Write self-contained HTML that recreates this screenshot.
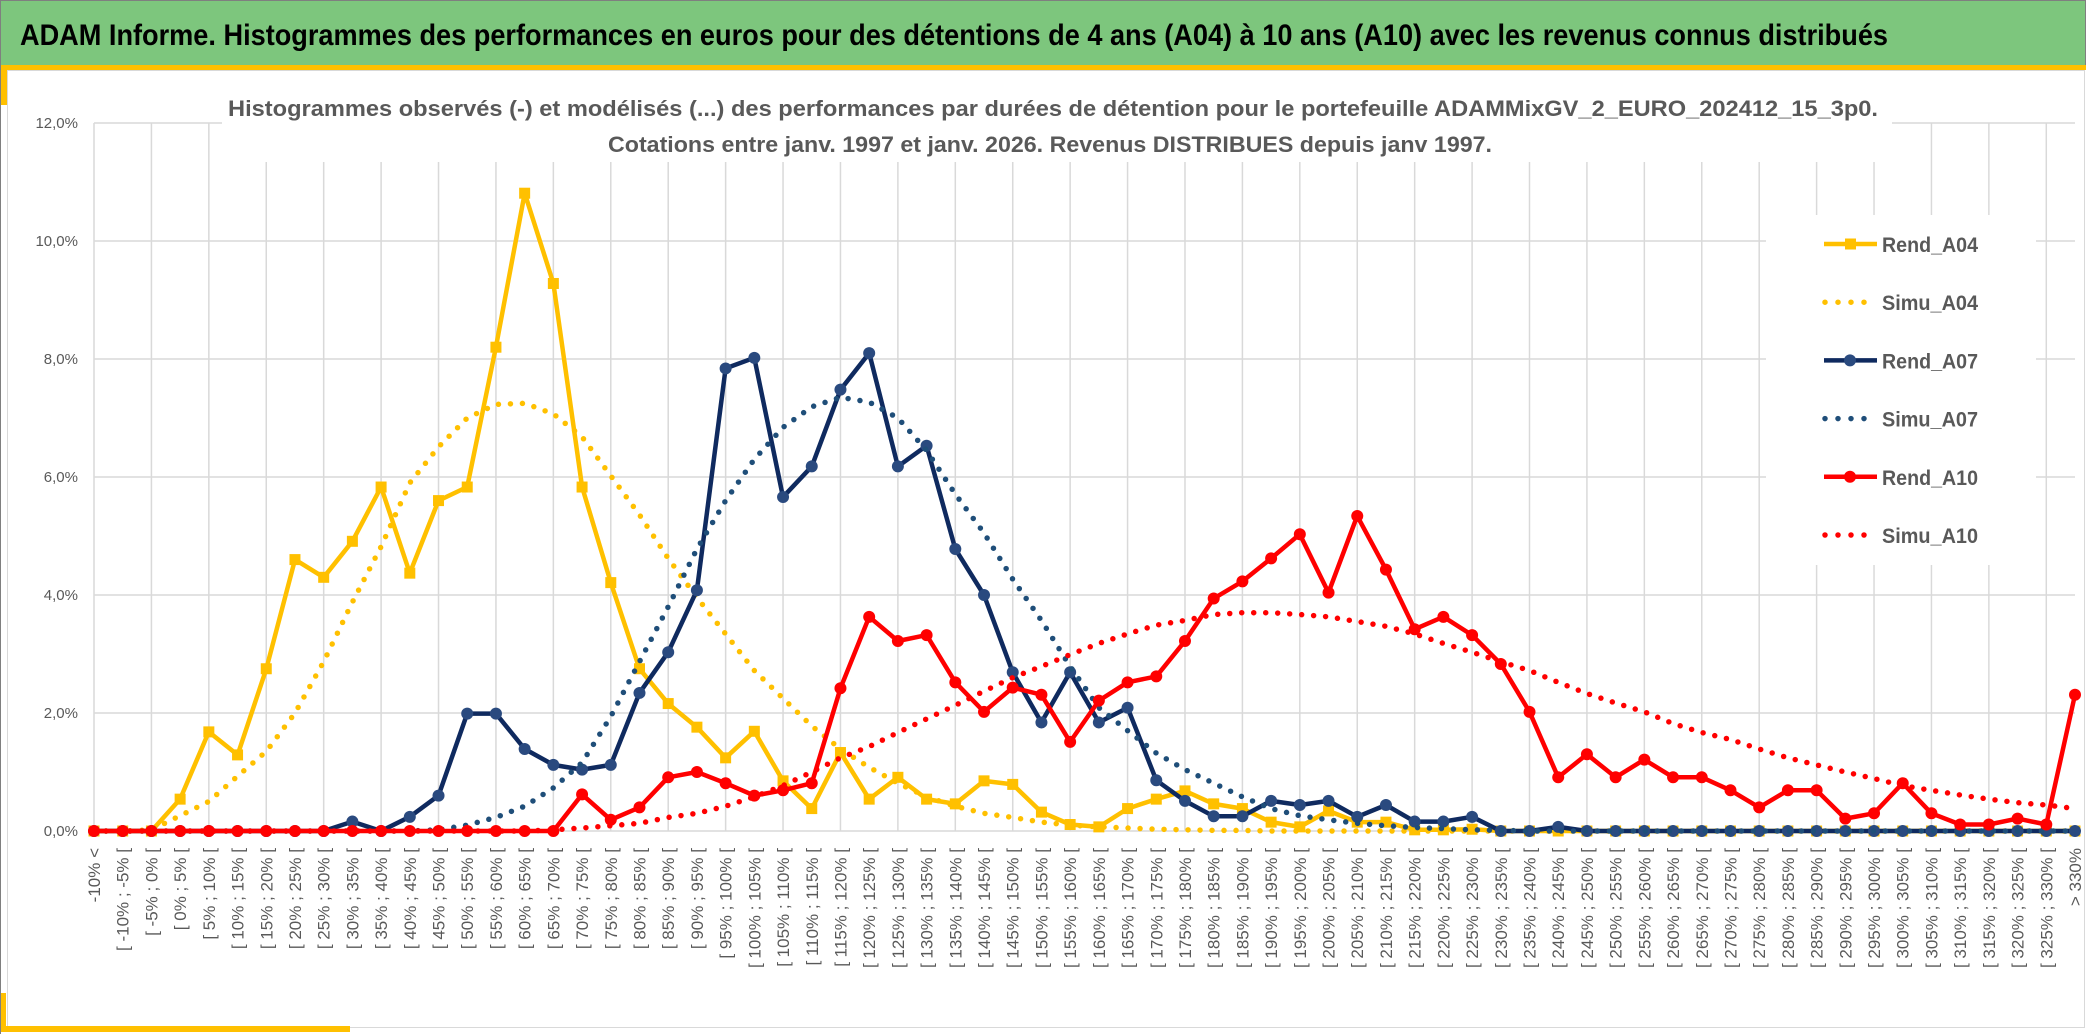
<!DOCTYPE html>
<html>
<head>
<meta charset="utf-8">
<style>
html,body{margin:0;padding:0;background:#fff;}
svg{display:block;font-family:"Liberation Sans",sans-serif;}
</style>
</head>
<body>
<svg id="chart" width="2086" height="1034" viewBox="0 0 2086 1034" xmlns="http://www.w3.org/2000/svg">
  <rect x="0" y="0" width="2086" height="1034" fill="#ffffff"/>
  <rect x="0.5" y="0.5" width="2085" height="65" fill="#7dc67d" stroke="#7f7f7f"/>
  <text x="20" y="45" font-size="30" font-weight="bold" fill="#000" textLength="1868" lengthAdjust="spacingAndGlyphs">ADAM Informe. Histogrammes des performances en euros pour des détentions de 4 ans (A04) à 10 ans (A10) avec les revenus connus distribués</text>
  <rect x="0" y="65" width="2086" height="5" fill="#ffc000"/>
  <rect x="0" y="65" width="7" height="40" fill="#ffc000"/>
  <rect x="7.5" y="70.5" width="2077" height="957" fill="none" stroke="#d9d9d9"/>
  <rect x="0" y="1026" width="350" height="6" fill="#ffc000"/>
  <rect x="0" y="993" width="6" height="39" fill="#ffc000"/>
  <line x1="0.5" y1="0" x2="0.5" y2="1034" stroke="#7f7f7f"/>
  <g id="grid"></g>
  <rect x="222" y="72" width="1670" height="90" fill="#fff"/>
  <text x="1053" y="116" font-size="22" font-weight="bold" fill="#595959" text-anchor="middle" textLength="1650" lengthAdjust="spacingAndGlyphs">Histogrammes observés (-) et modélisés (...) des performances par durées de détention pour le portefeuille ADAMMixGV_2_EURO_202412_15_3p0.</text>
  <text x="1050" y="152" font-size="22" font-weight="bold" fill="#595959" text-anchor="middle" textLength="884" lengthAdjust="spacingAndGlyphs">Cotations entre janv. 1997 et janv. 2026. Revenus DISTRIBUES depuis janv 1997.</text>
  <g id="yaxis"></g>
  <g id="xaxis"></g>
  <g id="series"></g>
  <g id="legend"></g>
</svg>
<script>
const categories = ["-10% <","[ -10% ; -5% [","[ -5% ; 0% [","[ 0% ; 5% [","[ 5% ; 10% [","[ 10% ; 15% [","[ 15% ; 20% [","[ 20% ; 25% [","[ 25% ; 30% [","[ 30% ; 35% [","[ 35% ; 40% [","[ 40% ; 45% [","[ 45% ; 50% [","[ 50% ; 55% [","[ 55% ; 60% [","[ 60% ; 65% [","[ 65% ; 70% [","[ 70% ; 75% [","[ 75% ; 80% [","[ 80% ; 85% [","[ 85% ; 90% [","[ 90% ; 95% [","[ 95% ; 100% [","[ 100% ; 105% [","[ 105% ; 110% [","[ 110% ; 115% [","[ 115% ; 120% [","[ 120% ; 125% [","[ 125% ; 130% [","[ 130% ; 135% [","[ 135% ; 140% [","[ 140% ; 145% [","[ 145% ; 150% [","[ 150% ; 155% [","[ 155% ; 160% [","[ 160% ; 165% [","[ 165% ; 170% [","[ 170% ; 175% [","[ 175% ; 180% [","[ 180% ; 185% [","[ 185% ; 190% [","[ 190% ; 195% [","[ 195% ; 200% [","[ 200% ; 205% [","[ 205% ; 210% [","[ 210% ; 215% [","[ 215% ; 220% [","[ 220% ; 225% [","[ 225% ; 230% [","[ 230% ; 235% [","[ 235% ; 240% [","[ 240% ; 245% [","[ 245% ; 250% [","[ 250% ; 255% [","[ 255% ; 260% [","[ 260% ; 265% [","[ 265% ; 270% [","[ 270% ; 275% [","[ 275% ; 280% [","[ 280% ; 285% [","[ 285% ; 290% [","[ 290% ; 295% [","[ 295% ; 300% [","[ 300% ; 305% [","[ 305% ; 310% [","[ 310% ; 315% [","[ 315% ; 320% [","[ 320% ; 325% [","[ 325% ; 330% [","> 330%"];
const rendA04 = [0,0,0,0.54,1.68,1.29,2.75,4.6,4.3,4.91,5.83,4.37,5.6,5.83,8.2,10.81,9.28,5.83,4.21,2.75,2.16,1.76,1.24,1.69,0.85,0.38,1.33,0.54,0.91,0.54,0.46,0.85,0.79,0.32,0.11,0.07,0.38,0.54,0.68,0.46,0.38,0.15,0.07,0.34,0.15,0.15,0.02,0.02,0.03,0,0,0,0,0,0,0,0,0,0,0,0,0,0,0,0,0,0,0,0,0];
const simuA04 = [0,0,0.02,0.26,0.5,0.93,1.35,2.0,2.87,3.88,4.82,5.9,6.51,7.0,7.23,7.25,7.07,6.68,6.02,5.36,4.62,3.96,3.34,2.72,2.25,1.78,1.39,1.08,0.81,0.58,0.42,0.3,0.23,0.15,0.1,0.07,0.05,0.03,0.02,0.01,0.01,0,0,0,0,0,0,0,0,0,0,0,0,0,0,0,0,0,0,0,0,0,0,0,0,0,0,0,0,0];
const rendA07 = [0,0,0,0,0,0,0,0,0,0.16,0,0.24,0.6,1.99,1.99,1.39,1.12,1.04,1.12,2.34,3.03,4.08,7.84,8.02,5.66,6.18,7.48,8.1,6.18,6.53,4.78,4.0,2.69,1.84,2.69,1.84,2.09,0.86,0.51,0.25,0.25,0.51,0.44,0.51,0.24,0.44,0.16,0.16,0.24,0,0,0.07,0,0,0,0,0,0,0,0,0,0,0,0,0,0,0,0,0,0];
const simuA07 = [0,0,0,0,0,0,0,0,0,0,0,0,0.02,0.1,0.23,0.42,0.73,1.16,1.94,2.87,3.8,4.78,5.6,6.3,6.84,7.19,7.35,7.27,7.0,6.45,5.71,5.05,4.27,3.57,2.79,2.09,1.7,1.32,1.04,0.81,0.58,0.38,0.26,0.19,0.13,0.09,0.06,0.04,0.02,0.01,0,0,0,0,0,0,0,0,0,0,0,0,0,0,0,0,0,0,0,0];
const rendA10 = [0,0,0,0,0,0,0,0,0,0,0,0,0,0,0,0,0,0.62,0.19,0.4,0.91,1.0,0.81,0.6,0.69,0.81,2.42,3.63,3.22,3.32,2.52,2.02,2.43,2.31,1.51,2.21,2.52,2.62,3.22,3.94,4.23,4.62,5.03,4.04,5.34,4.43,3.42,3.63,3.32,2.83,2.02,0.91,1.3,0.91,1.21,0.91,0.91,0.69,0.4,0.69,0.69,0.21,0.3,0.81,0.3,0.11,0.11,0.21,0.11,2.31];
const simuA10 = [0,0,0,0,0,0,0,0,0,0,0,0,0,0,0,0,0.02,0.05,0.09,0.13,0.23,0.3,0.42,0.58,0.77,1.0,1.24,1.43,1.67,1.9,2.13,2.37,2.6,2.79,2.99,3.18,3.34,3.49,3.57,3.67,3.7,3.7,3.67,3.63,3.55,3.47,3.34,3.18,3.03,2.87,2.72,2.52,2.33,2.17,2.02,1.82,1.67,1.55,1.39,1.24,1.12,1.0,0.89,0.77,0.69,0.61,0.54,0.48,0.44,0.38];
const yTicks = [0,2,4,6,8,10,12];
const yTickLabels = ["0,0%","2,0%","4,0%","6,0%","8,0%","10,0%","12,0%"];
const seriesNames = ["Rend_A04","Simu_A04","Rend_A07","Simu_A07","Rend_A10","Simu_A10"];

const NS = "http://www.w3.org/2000/svg";
const X0 = 94, X1 = 2075, Y0 = 831, YTOP = 123, YMAX = 12;
function xPos(i){ return X0 + i * (X1 - X0) / (categories.length - 1); }
function yPos(v){ return Y0 - v * (Y0 - YTOP) / YMAX; }
function mk(tag, attrs, parent){
  const e = document.createElementNS(NS, tag);
  for (const k in attrs) e.setAttribute(k, attrs[k]);
  parent.appendChild(e);
  return e;
}

// gridlines
const grid = document.getElementById('grid');
yTicks.forEach((t) => {
  const l = mk('line', {x1: X0, x2: X1, y1: yPos(t), y2: yPos(t), stroke: '#d9d9d9', 'stroke-width': 1.5}, grid);
  
  
});
for (let i = 0; i < categories.length; i += 2) {
  const l = mk('line', {x1: xPos(i), x2: xPos(i), y1: YTOP, y2: Y0, stroke: '#d9d9d9', 'stroke-width': 1.5}, grid);
  
  
}

// y axis labels
const yaxis = document.getElementById('yaxis');
yTicks.forEach((t, k) => {
  const tx = mk('text', {x: 78, y: yPos(t) + 5, 'font-size': 15, fill: '#595959', 'text-anchor': 'end'}, yaxis);
  tx.textContent = yTickLabels[k];
  
  
});

// x axis labels
const xaxis = document.getElementById('xaxis');
categories.forEach((c, i) => {
  const x = xPos(i) + 6, y = 848;
  const tx = mk('text', {x: x, y: y, 'font-size': 17, fill: '#595959', 'text-anchor': 'end', transform: 'rotate(-90 ' + x + ' ' + y + ')'}, xaxis);
  tx.textContent = c;
  
  
});

// series
const sg = document.getElementById('series');
function pts(arr){ return arr.map((v, i) => xPos(i).toFixed(1) + ',' + yPos(v).toFixed(1)).join(' '); }
function drawSolid(arr, color, markerColor, marker, name){
  const g = mk('g', {}, sg);
  
  
  const pl = mk('polyline', {points: pts(arr), fill: 'none', stroke: color, 'stroke-width': 4.5, 'stroke-linejoin': 'round'}, g);
  
  
  arr.forEach((v, i) => {
    let m;
    if (marker === 'square') {
      m = mk('rect', {x: xPos(i) - 5.5, y: yPos(v) - 5.5, width: 11, height: 11, fill: markerColor}, g);
    } else {
      m = mk('circle', {cx: xPos(i), cy: yPos(v), r: 6, fill: markerColor}, g);
    }
    
    
  });
}
function drawDotted(arr, color, name){
  const pl = mk('polyline', {points: pts(arr), fill: 'none', stroke: color, 'stroke-width': 5.5, 'stroke-linecap': 'round', 'stroke-linejoin': 'round', 'stroke-dasharray': '0 12'}, sg);
  
  
}
drawSolid(rendA04, '#ffc000', '#ffc000', 'square', 'rend-a04');
drawDotted(simuA04, '#ffc000', 'simu-a04');
drawSolid(rendA07, '#0f2a5f', '#2a4a7f', 'circle', 'rend-a07');
drawDotted(simuA07, '#1f4e79', 'simu-a07');
drawSolid(rendA10, '#ff0000', '#ff0000', 'circle', 'rend-a10');
drawDotted(simuA10, '#ff0000', 'simu-a10');

// legend
const lg = document.getElementById('legend');
const bg = mk('rect', {x: 1766, y: 215, width: 270, height: 350, fill: '#ffffff'}, lg);


const legColors = ['#ffc000','#ffc000','#0f2a5f','#1f4e79','#ff0000','#ff0000'];
const legMark = ['#ffc000','#ffc000','#2a4a7f','#1f4e79','#ff0000','#ff0000'];
seriesNames.forEach((n, k) => {
  const y = 244 + k * 58.2;
  const g = mk('g', {}, lg);
  
  
  if (k % 2 === 0) {
    mk('line', {x1: 1824, x2: 1877, y1: y, y2: y, stroke: legColors[k], 'stroke-width': 4.5}, g);
    if (k === 0) mk('rect', {x: 1845, y: y - 5.5, width: 11, height: 11, fill: legMark[k]}, g);
    else mk('circle', {cx: 1850, cy: y, r: 6, fill: legMark[k]}, g);
  } else {
    mk('line', {x1: 1825, x2: 1869, y1: y, y2: y, stroke: legColors[k], 'stroke-width': 5.5, 'stroke-linecap': 'round', 'stroke-dasharray': '0 13'}, g);
  }
  const t = mk('text', {x: 1882, y: y + 8, 'font-size': 21, 'font-weight': 'bold', fill: '#595959', textLength: 96, lengthAdjust: 'spacingAndGlyphs'}, g);
  t.textContent = n;
});
</script>
</body>
</html>
